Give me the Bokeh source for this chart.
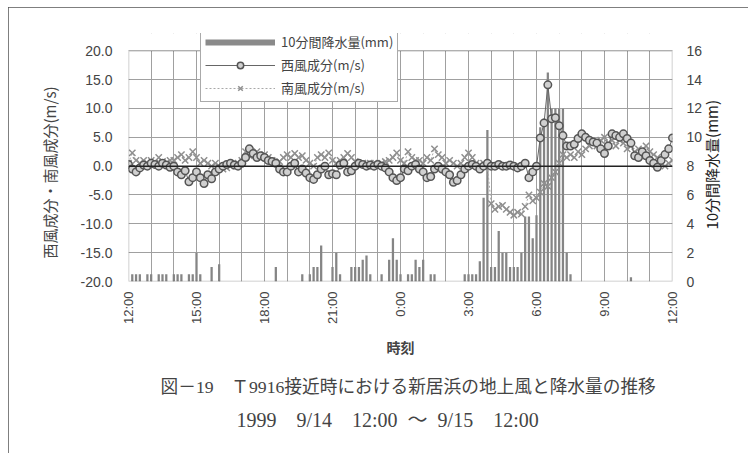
import math
from bokeh.plotting import figure
from bokeh.models import (Range1d, LinearAxis, FixedTicker, Legend, LegendItem,
                          Span, Title, NumeralTickFormatter, BoxAnnotation)
from bokeh.embed import file_html
from bokeh.resources import INLINE

# ---- data (10-minute steps from 9/14 12:00 to 9/15 12:00) ----
tick_hours = [0, 3, 6, 9, 12, 15, 18, 21, 24]
tick_labels = ["12:00", "15:00", "18:00", "21:00", "0:00", "3:00", "6:00", "9:00", "12:00"]
wind_ticks = [-20, -15, -10, -5, 0, 5, 10, 15, 20]
rain_ticks = [0, 2, 4, 6, 8, 10, 12, 14, 16]

west = [
    0.3, -0.5, -1.0, -0.3, 0.2, 0.0,
    0.5, 0.3, 0.0, 0.5, 0.2, -0.2,
    0.0, -1.0, -1.5, -0.8, -2.7, -2.0,
    -1.0, -2.0, -3.0, -1.5, -2.2, -1.0,
    -0.5, 0.0, 0.3, 0.5, 0.2, 0.0,
    0.5, 1.5, 3.0, 2.2, 1.5, 1.8,
    1.5, 1.0, 0.8, 0.5, -0.5, -1.0,
    -1.0, 0.0, 0.5, -1.0, -0.5, -1.2,
    -2.0, -2.3, -1.5, -0.5, 0.0, -1.5,
    -1.3, -1.5, 0.2, 0.5, -1.0, -0.8,
    0.0, 0.5, 0.3, 0.0, 0.2, 0.0,
    0.3, 0.0, -0.3, -1.0, -2.0, -2.5,
    -2.0, -0.5, -0.8, 0.0, 0.3, -0.5,
    -1.0, -2.0, -1.8, -0.5, 0.0, -0.5,
    -1.0, -1.5, -2.8, -2.5, -1.5, -0.5,
    0.0, 0.3, 0.0, -0.5, 0.0, 0.5,
    0.0, 0.0, 0.3, 0.0, 0.0, 0.2,
    0.0, -0.3, 0.0, 0.5, -2.0, -1.0,
    0.0, 4.9, 7.5, 14.1, 8.2, 8.4,
    7.0, 5.3, 3.5, 3.5, 3.8, 4.8,
    5.6, 5.0, 4.5, 4.2, 4.0, 3.0,
    2.2, 3.5, 5.6, 5.3, 5.0, 5.6,
    4.8, 4.0, 1.8, 1.5, 2.5, 1.8,
    1.0, 0.5, -0.2, 1.0, 2.0, 3.0,
    4.9,
]

south = [
    0.5, 2.3, 1.0, 0.5, 1.0, 0.5,
    1.0, 0.5, 1.5, 0.8, 0.5, 1.0,
    1.0, 1.5, 2.0, 1.0, 1.5, 2.5,
    1.5, 0.5, 1.0, 0.5, 0.0, 0.5,
    0.0, -0.5, -0.3, 0.0, 0.3, 0.5,
    1.0, 2.5, 1.8, 2.0, 2.5, 1.5,
    2.0, 1.5, 1.0, 0.5, 0.8, 1.5,
    2.0, 1.5, 2.2, 1.5, 1.8, 1.0,
    0.5, 0.0, 1.5, 2.0, 1.5, 2.3,
    1.0, 0.5, 1.0, 1.5, 2.2, 1.5,
    0.8, 0.5, 0.5, 0.3, 0.5, 0.5,
    0.3, 0.5, 0.8, 1.0, 1.5, 2.3,
    1.0, 0.5, 2.5, 1.5, 1.0, 1.0,
    0.5, 1.5, 1.0, 3.0, 2.0, 1.5,
    0.5, 1.0, 0.5, 0.0, 0.5, 1.5,
    2.3, 1.5, 0.5, 0.0, 0.5, 0.0,
    -6.5, -7.5, -7.0, -6.8, -7.5, -8.0,
    -8.5, -8.0, -8.3, -7.0, -5.0, -6.0,
    -5.5, -4.5, -3.0, -3.5, -2.0, -1.0,
    0.5, 2.0, 1.5, 2.0, 1.5, 2.5,
    2.0, 3.0, 3.5, 4.0, 3.5, 4.5,
    5.0, 4.0, 4.5, 3.5, 4.5, 4.0,
    3.0, 3.5, 2.5, 3.0, 2.0, 3.5,
    2.5, 2.0, 1.5, 0.5, 0.0, 0.5,
    1.0,
]

precip = [
    0, 0.5, 0.5, 0.5, 0, 0.5, 0.5, 0, 0.5, 0.5, 0.5, 0,
    0.5, 0.5, 0.5, 0, 0.5, 0.5, 2.0, 0.5, 0, 0, 1.0, 0,
    1.2, 0, 0, 0, 0, 0, 0, 0, 0, 0, 0, 0,
    0, 0, 0, 1.0, 0, 0, 0, 0, 0, 0, 0.5, 0,
    0.5, 1.0, 1.0, 2.5, 0, 0, 1.0, 2.0, 0.5, 0, 0, 1.0,
    1.0, 1.0, 1.5, 1.8, 0.5, 0, 0, 0.5, 0, 1.5, 3.0, 1.5,
    0.5, 0, 0.5, 0.5, 1.5, 1.0, 1.5, 0, 0.5, 0.5, 0, 0,
    0, 0, 0, 0, 0, 0.5, 0.5, 0.5, 0.5, 1.4, 5.8, 10.5,
    1.0, 1.0, 3.5, 2.0, 2.0, 1.0, 1.0, 1.0, 2.0, 4.5, 4.5, 3.0,
    4.6, 10.7, 11.3, 14.5, 12.0, 12.0, 12.0, 12.0, 2.0, 0.5, 0, 0,
    0, 0, 0, 0, 0, 0, 0, 0, 0, 0, 0, 0,
    0, 0.3, 0, 0, 0, 0, 0, 0, 0, 0, 0, 0,
    0,
]

hours = [i / 6 for i in range(len(west))]

JP = "Noto Sans CJK JP"
SANS = "Liberation Sans"
SERIF = "Liberation Serif, Noto Sans CJK JP"

# the frame is extended a little above 20.0 so that the legend (which sits
# partly above the plot box in the original) is not clipped
W_MIN, W_MAX = wind_ticks[0], wind_ticks[-1]
EXTRA = 3.0
R_MAX = rain_ticks[-1] * (W_MAX + EXTRA - W_MIN) / (W_MAX - W_MIN)

p = figure(width=740, height=446, output_backend="svg", toolbar_location=None,
           x_range=Range1d(tick_hours[0], tick_hours[-1]),
           y_range=Range1d(W_MIN, W_MAX + EXTRA),
           min_border_left=120, min_border_right=76, min_border_top=26,
           min_border_bottom=172)
p.margin = (7, 0, 0, 8)
p.styles = {"outline": "1.5px solid #555", "outline-offset": "-1px"}
p.outline_line_color = None
p.background_fill_color = "white"

p.extra_y_ranges = {"rain": Range1d(0, R_MAX)}

# bars (right axis)
bars = p.vbar(x=hours, top=precip, width=0.1, y_range_name="rain",
              fill_color="#858585", line_color=None)

# zero line
p.add_layout(Span(location=0, dimension="width", line_color="#222", line_width=1.5))

# south component
s_line = p.line(hours, south, line_color="#a8a8a8", line_width=1, line_dash="2 2")
s_pts = p.scatter(hours, south, marker="x", size=9, line_color="#8f8f8f", line_width=1.5)

# west component
w_line = p.line(hours, west, line_color="#666666", line_width=1)
w_pts = p.scatter(hours, west, marker="circle", size=7.5, line_color="#555555",
                  fill_color="#d0d0d0", line_width=1.5)

# legend proxy for the rainfall bars (a thick grey band, as in the original key)
rain_proxy = p.line(x=[math.nan], y=[math.nan], line_color="#8a8a8a", line_width=6,
                    y_range_name="rain")

# white strip above the plot box, then the plot box border
p.add_layout(BoxAnnotation(left=tick_hours[0], right=tick_hours[-1], bottom=W_MAX,
                           top=W_MAX + EXTRA, fill_color="white", fill_alpha=1,
                           line_color=None))
p.add_layout(BoxAnnotation(left=tick_hours[0], right=tick_hours[-1], bottom=W_MIN,
                           top=W_MAX, fill_alpha=0, fill_color=None,
                           line_color="#333333", line_width=1.5))


def bare(ax):
    ax.major_tick_out = 0
    ax.major_tick_in = 0
    ax.minor_tick_out = 0
    ax.minor_tick_in = 0
    ax.axis_line_color = None


# x axis
xa = p.xaxis[0]
bare(xa)
xa.ticker = FixedTicker(ticks=tick_hours)
xa.major_label_overrides = {h: lab for h, lab in zip(tick_hours, tick_labels)}
xa.major_label_orientation = math.pi / 2
xa.major_label_standoff = 10
xa.major_label_text_font = SANS
xa.major_label_text_font_size = "13px"
xa.axis_label = "時刻"
xa.axis_label_text_font = JP
xa.axis_label_text_font_size = "14px"
xa.axis_label_text_font_style = "bold"
xa.axis_label_standoff = 10

# left axis
ya = p.yaxis[0]
bare(ya)
ya.ticker = FixedTicker(ticks=wind_ticks)
ya.formatter = NumeralTickFormatter(format="0.0")
ya.major_label_standoff = 16
ya.major_label_text_font = SANS
ya.major_label_text_font_size = "14px"
ya.axis_label = "西風成分・南風成分(m/s)\u2002\u2002\u3000"
ya.axis_label_text_font = JP
ya.axis_label_text_font_size = "15px"
ya.axis_label_text_font_style = "normal"
ya.axis_label_standoff = 18

# right axis (rainfall)
ra = LinearAxis(y_range_name="rain", ticker=FixedTicker(ticks=rain_ticks))
bare(ra)
ra.major_label_standoff = 14
ra.major_label_text_font = SANS
ra.major_label_text_font_size = "14px"
p.add_layout(ra, "right")

# right axis title, written bottom-to-top like the original
RAIN_TITLE_AT = -11
rt = LinearAxis(ticker=FixedTicker(ticks=[RAIN_TITLE_AT]),
                major_label_overrides={RAIN_TITLE_AT: "10分間降水量(mm)"})
bare(rt)
rt.major_label_orientation = math.pi / 2
rt.major_label_standoff = 6
rt.major_label_text_font = JP
rt.major_label_text_font_size = "15px"
rt.major_label_text_color = "#222222"
p.add_layout(rt, "right")

p.xgrid.ticker = FixedTicker(ticks=list(range(0, 25)))
p.xgrid.grid_line_color = "#a0a0a0"
p.ygrid.grid_line_color = "#a0a0a0"

legend = Legend(items=[
    LegendItem(label="10分間降水量(mm)", renderers=[rain_proxy]),
    LegendItem(label="西風成分(m/s)", renderers=[w_line, w_pts]),
    LegendItem(label="南風成分(m/s)", renderers=[s_line, s_pts]),
], location=(72, 179))
legend.label_text_font = JP
legend.label_text_font_size = "13px"
legend.glyph_width = 70
legend.glyph_height = 16
legend.label_height = 16
legend.label_width = 104
legend.spacing = 4
legend.padding = 4
legend.margin = 0
legend.label_standoff = 6
legend.border_line_color = "#555"
legend.border_line_width = 1
legend.background_fill_alpha = 1
p.add_layout(legend, "center")

cap1 = Title(text="図－19　Ｔ9916接近時における新居浜の地上風と降水量の推移",
             align="left", text_font=SERIF, text_font_size="17.7px",
             text_font_style="normal", standoff=29, offset=32)
cap2 = Title(text="1999　9/14　12:00\u2002～\u20029/15　12:00",
             align="left", text_font=SERIF, text_font_size="20px",
             text_font_style="normal", standoff=0, offset=108)
try:
    cap2.standoff = -9
except Exception:
    cap2.standoff = 0
p.add_layout(cap1, "below")
p.add_layout(cap2, "below")

open("out.html", "w").write(file_html(p, INLINE))
